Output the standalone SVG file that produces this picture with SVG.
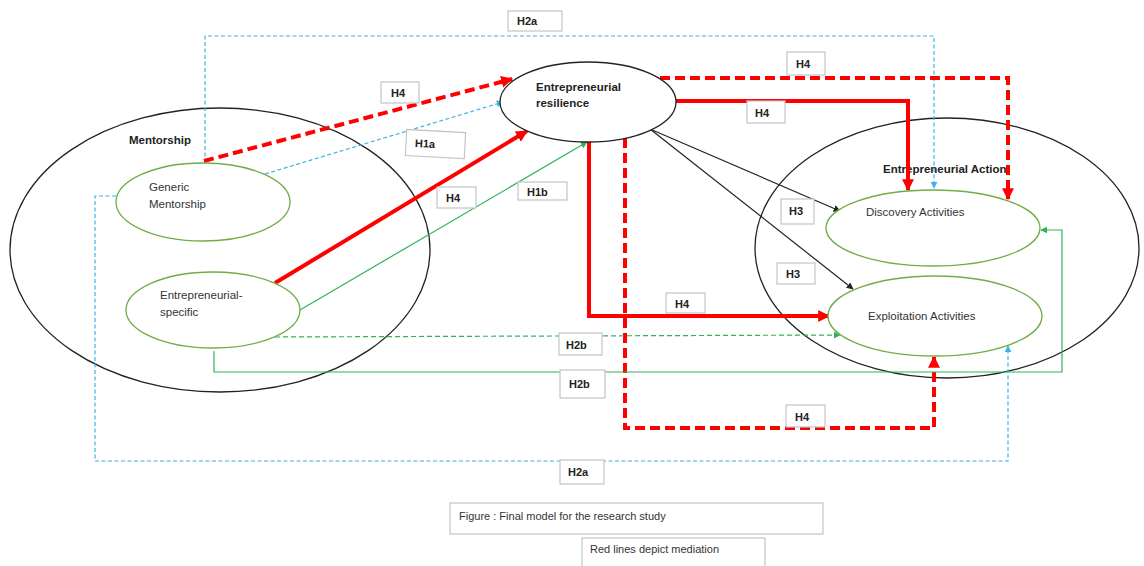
<svg xmlns="http://www.w3.org/2000/svg" width="1144" height="566" viewBox="0 0 1144 566">
<style>
.big{fill:none;stroke:#222;stroke-width:1.3}
.node{fill:#fff;stroke:#70ad47;stroke-width:1.3}
.res{fill:#fff;stroke:#222;stroke-width:1.3}
.ntxt{font-family:"Liberation Sans",Arial,sans-serif;font-size:11.5px;fill:#333}
.btxt{font-family:"Liberation Sans",Arial,sans-serif;font-size:11.5px;font-weight:bold;fill:#222}
.lbox{fill:#fff;stroke:#c4c4c4;stroke-width:1.2}
.ltxt{font-family:"Liberation Sans",Arial,sans-serif;font-size:11px;font-weight:bold;fill:#222}
.cap{font-family:"Liberation Sans",Arial,sans-serif;font-size:11px;fill:#333}
.redS{fill:none;stroke:#ff0000;stroke-width:4}
.redD{fill:none;stroke:#ff0000;stroke-width:4;stroke-dasharray:10 5}
.blue{fill:none;stroke:#3cb4e6;stroke-width:1.2;stroke-dasharray:4 2.5}
.grn{fill:none;stroke:#2fb35a;stroke-width:1.2}
.grnD{fill:none;stroke:#2fb35a;stroke-width:1.2;stroke-dasharray:5 3}
.blk{fill:none;stroke:#222;stroke-width:1.2}
</style>
<defs>
<marker id="aR" viewBox="0 0 10 10" refX="9" refY="5" markerUnits="userSpaceOnUse" markerWidth="12" markerHeight="13" orient="auto"><path d="M0,0 L10,5 L0,10 z" fill="#ff0000"/></marker>
<marker id="aB" viewBox="0 0 10 10" refX="9" refY="5" markerUnits="userSpaceOnUse" markerWidth="7" markerHeight="7" orient="auto"><path d="M0,0 L10,5 L0,10 z" fill="#3cb4e6"/></marker>
<marker id="aG" viewBox="0 0 10 10" refX="9" refY="5" markerUnits="userSpaceOnUse" markerWidth="7" markerHeight="7" orient="auto"><path d="M0,0 L10,5 L0,10 z" fill="#2fb35a"/></marker>
<marker id="aK" viewBox="0 0 10 10" refX="9" refY="5" markerUnits="userSpaceOnUse" markerWidth="7" markerHeight="7" orient="auto"><path d="M0,0 L10,5 L0,10 z" fill="#222"/></marker>
</defs>
<rect width="1144" height="566" fill="#fff"/>

<g id="mentorship">
<ellipse class="big" cx="220" cy="250" rx="210" ry="142"/>
<text class="btxt" x="129" y="144">Mentorship</text>
</g>
<g id="entrepreneurial-action">
<ellipse class="big" cx="947" cy="248" rx="192" ry="130"/>
<text class="btxt" x="883" y="173">Entrepreneurial Action</text>
</g>

<g id="connectors">
<polyline class="blue" points="205,163 205,36 934,36 934,188" marker-end="url(#aB)"/>
<polyline class="blue" points="116,196 95,196 95,461 1008,461 1008,346" marker-end="url(#aB)"/>
<line class="blue" x1="265" y1="174" x2="503" y2="102" marker-end="url(#aB)"/>
<line class="redD" x1="204" y1="161" x2="512" y2="79" marker-end="url(#aR)"/>
<line class="redS" x1="275" y1="283" x2="527" y2="131" marker-end="url(#aR)"/>
<line class="grn" x1="300" y1="310" x2="587" y2="142" marker-end="url(#aG)"/>
<polyline class="redD" points="660,78 1008,78 1008,199" marker-end="url(#aR)"/>
<polyline class="redS" points="676,101 908,101 908,190" marker-end="url(#aR)"/>
<line class="blk" x1="650" y1="129" x2="840" y2="211" marker-end="url(#aK)"/>
<line class="blk" x1="650" y1="129" x2="853" y2="289" marker-end="url(#aK)"/>
<polyline class="redS" points="589,142 589,316 829,316" marker-end="url(#aR)"/>
<polyline class="redD" points="625,138 625,428 934,428 934,357" marker-end="url(#aR)"/>
<line class="grnD" x1="275" y1="337" x2="840" y2="335" marker-end="url(#aG)"/>
<polyline class="grn" points="214,351 214,372 1062,372 1062,230 1041,230" marker-end="url(#aG)"/>
</g>

<g id="generic-mentorship">
<ellipse class="node" cx="203" cy="202" rx="87" ry="39"/>
<text class="ntxt" x="149" y="191">Generic</text>
<text class="ntxt" x="149" y="208">Mentorship</text>
</g>
<g id="entrepreneurial-specific">
<ellipse class="node" cx="213" cy="310" rx="87" ry="38"/>
<text class="ntxt" x="160" y="299">Entrepreneurial-</text>
<text class="ntxt" x="160" y="316">specific</text>
</g>
<g id="entrepreneurial-resilience">
<ellipse class="res" cx="588" cy="102" rx="88" ry="40"/>
<text class="btxt" x="536" y="91">Entrepreneurial</text>
<text class="btxt" x="536" y="107">resilience</text>
</g>
<g id="discovery-activities">
<ellipse class="node" cx="933" cy="228" rx="107" ry="38"/>
<text class="ntxt" x="866" y="216">Discovery Activities</text>
</g>
<g id="exploitation-activities">
<ellipse class="node" cx="935" cy="316" rx="107" ry="40"/>
<text class="ntxt" x="868" y="320">Exploitation Activities</text>
</g>

<g id="labels">
<rect class="lbox" x="508" y="11" width="54" height="20"/><text class="ltxt" x="517" y="25">H2a</text>
<rect class="lbox" x="381" y="82" width="38" height="21"/><text class="ltxt" x="391" y="97">H4</text>
<g transform="rotate(3 435 144)"><rect class="lbox" x="406" y="131" width="59" height="26"/><text class="ltxt" x="415" y="148">H1a</text></g>
<rect class="lbox" x="437" y="187" width="39" height="21"/><text class="ltxt" x="446" y="202">H4</text>
<rect class="lbox" x="518" y="182" width="49" height="18"/><text class="ltxt" x="527" y="196">H1b</text>
<rect class="lbox" x="787" y="52" width="38" height="23"/><text class="ltxt" x="796" y="68">H4</text>
<rect class="lbox" x="747" y="101" width="38" height="22"/><text class="ltxt" x="755" y="117">H4</text>
<rect class="lbox" x="781" y="199" width="33" height="25"/><text class="ltxt" x="789" y="215">H3</text>
<rect class="lbox" x="777" y="263" width="38" height="21"/><text class="ltxt" x="786" y="278">H3</text>
<rect class="lbox" x="666" y="293" width="39" height="20"/><text class="ltxt" x="675" y="308">H4</text>
<rect class="lbox" x="559" y="333" width="43" height="22"/><text class="ltxt" x="566" y="349">H2b</text>
<rect class="lbox" x="560" y="370" width="45" height="28"/><text class="ltxt" x="569" y="388">H2b</text>
<rect class="lbox" x="786" y="405" width="39" height="22"/><text class="ltxt" x="795" y="421">H4</text>
<rect class="lbox" x="560" y="460" width="44" height="24"/><text class="ltxt" x="568" y="476">H2a</text>
</g>

<g id="caption">
<rect class="lbox" x="450" y="503" width="373" height="31"/>
<text class="cap" x="459" y="520">Figure : Final model for the research study</text>
<rect class="lbox" x="582" y="538" width="183" height="32"/>
<text class="cap" x="590" y="553">Red lines depict mediation</text>
</g>
</svg>
